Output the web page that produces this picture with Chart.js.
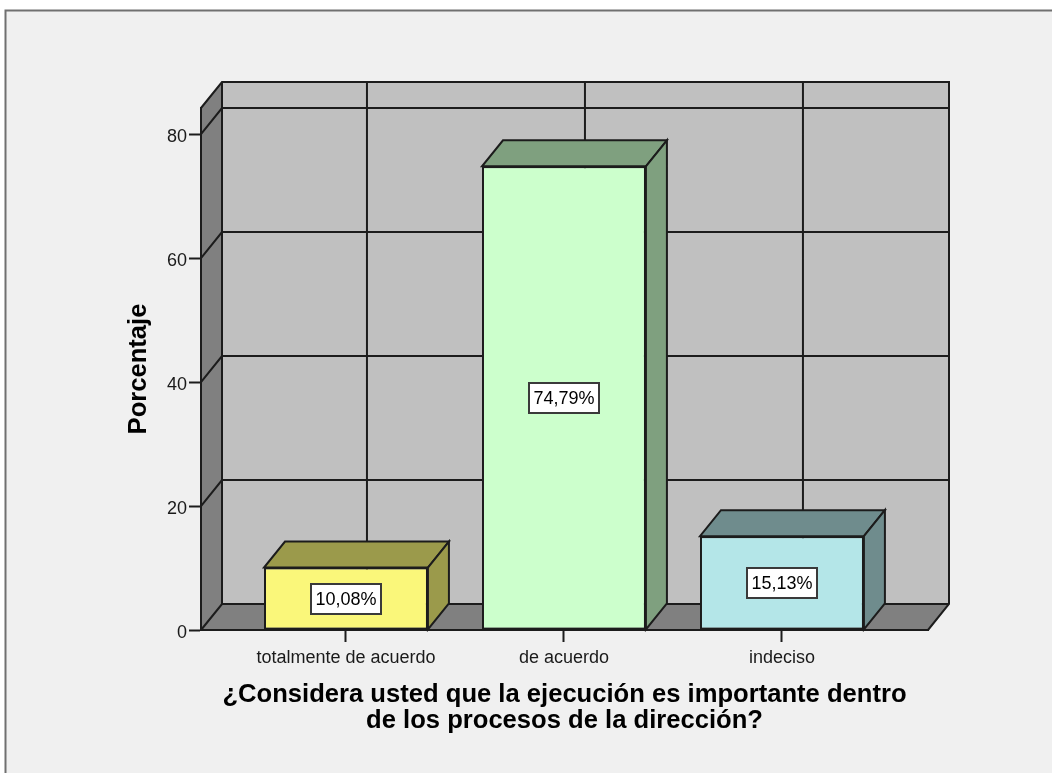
<!DOCTYPE html>
<html><head><meta charset="utf-8">
<script src="https://cdn.jsdelivr.net/npm/chart.js@4"></script>
<style>html,body{margin:0;padding:0;background:#fff;overflow:hidden;} canvas{display:block;}</style>
</head><body>
<canvas id="c" width="1052" height="773"></canvas>
<script>
const categories = ['totalmente de acuerdo', 'de acuerdo', 'indeciso'];
const percentages = [10.08, 74.79, 15.13];
const yTicks = [0, 20, 40, 60, 80];
const xTitle = ['¿Considera usted que la ejecución es importante dentro', 'de los procesos de la dirección?'];
const yTitle = 'Porcentaje';

const FONT = "'Liberation Sans', Arial, sans-serif";
const frontColors = ['#faf77a', '#ccffcc', '#b4e6e8'];
const sideColors = ['#9b9a4b', '#7fa07f', '#6f8c8d'];
const DX = 21, DY = -26;
const LINE = '#1c1c1c';

function poly(ctx, pts, fill, stroke) {
  ctx.beginPath();
  ctx.moveTo(pts[0][0], pts[0][1]);
  for (let i = 1; i < pts.length; i++) ctx.lineTo(pts[i][0], pts[i][1]);
  ctx.closePath();
  if (fill) { ctx.fillStyle = fill; ctx.fill(); }
  if (stroke) { ctx.strokeStyle = stroke; ctx.lineJoin = 'miter'; ctx.stroke(); }
}

const plugin3d = {
  id: 'spss3d',
  beforeDraw(chart) {
    const ctx = chart.ctx;
    const {left: L, right: R, top: T, bottom: B} = chart.chartArea;
    const xs = chart.scales.x, ys = chart.scales.y;
    ctx.save();
    ctx.fillStyle = '#ffffff'; ctx.fillRect(0, 0, chart.width, chart.height);
    ctx.fillStyle = '#f0f0f0'; ctx.fillRect(5, 10, chart.width - 5, chart.height - 10);
    ctx.strokeStyle = '#707070'; ctx.lineWidth = 2;
    ctx.beginPath(); ctx.moveTo(5.5, chart.height); ctx.lineTo(5.5, 10.5); ctx.lineTo(chart.width, 10.5); ctx.stroke();
    // back wall
    ctx.fillStyle = '#c0c0c0'; ctx.fillRect(L + DX, T + DY, R - L, B - T);
    // left wall and floor
    poly(ctx, [[L, T], [L + DX, T + DY], [L + DX, B + DY], [L, B]], '#808080');
    poly(ctx, [[L, B], [R, B], [R + DX, B + DY], [L + DX, B + DY]], '#808080');
    ctx.strokeStyle = LINE; ctx.lineWidth = 2;
    ctx.beginPath();
    yTicks.forEach(v => {
      const y = ys.getPixelForValue(v);
      ctx.moveTo(L, y); ctx.lineTo(L + DX, y + DY); ctx.lineTo(R + DX, y + DY);
    });
    categories.forEach((c, i) => {
      const x = xs.getPixelForValue(i) + DX;
      ctx.moveTo(x, T + DY); ctx.lineTo(x, B + DY);
    });
    ctx.moveTo(L, T); ctx.lineTo(L + DX, T + DY); ctx.lineTo(R + DX, T + DY); ctx.lineTo(R + DX, B + DY); ctx.lineTo(R, B);
    ctx.moveTo(L + DX, T + DY); ctx.lineTo(L + DX, B + DY);
    ctx.stroke();
    ctx.restore();
  },
  afterDatasetsDraw(chart) {
    const ctx = chart.ctx;
    const meta = chart.getDatasetMeta(0);
    ctx.save();
    ctx.lineWidth = 2;
    meta.data.forEach((bar, i) => {
      const {x, y, base, width} = bar.getProps(['x', 'y', 'base', 'width'], true);
      const l = x - width / 2, r = x + width / 2;
      poly(ctx, [[l, y], [r, y], [r + DX, y + DY], [l + DX, y + DY]], sideColors[i], LINE);
      poly(ctx, [[r, y], [r + DX, y + DY], [r + DX, base + DY], [r, base]], sideColors[i], LINE);
    });
    meta.data.forEach((bar, i) => {
      const {x, y, base} = bar.getProps(['x', 'y', 'base'], true);
      const txt = percentages[i].toFixed(2).replace('.', ',') + '%';
      ctx.font = '18px ' + FONT;
      const tw = ctx.measureText(txt).width;
      const bw = Math.round(tw + 9), bh = 30;
      const cx = Math.round(x), cy = Math.round((y + base) / 2);
      const bx = cx - Math.round(bw / 2), by = cy - bh / 2;
      ctx.fillStyle = '#ffffff'; ctx.fillRect(bx, by, bw, bh);
      ctx.strokeStyle = '#3a3a3a'; ctx.lineWidth = 2; ctx.strokeRect(bx, by, bw, bh);
      ctx.fillStyle = '#000000'; ctx.textAlign = 'center'; ctx.textBaseline = 'middle';
      ctx.fillText(txt, cx, cy + 1);
    });
    ctx.restore();
  }
};

new Chart(document.getElementById('c'), {
  type: 'bar',
  data: {
    datasets: [{
      data: percentages.map((v, i) => ({x: i, y: v})),
      backgroundColor: frontColors,
      borderColor: LINE,
      borderWidth: 2,
      borderSkipped: false,
      categoryPercentage: 1,
      barPercentage: 0.752
    }]
  },
  options: {
    responsive: false,
    animation: false,
    events: [],
    layout: {padding: {left: 0, right: 124, top: 108, bottom: 0}},
    plugins: {legend: {display: false}, tooltip: {enabled: false}},
    scales: {
      x: {
        type: 'linear', min: -0.665, max: 2.67, offset: false,
        grid: {display: true, drawOnChartArea: false, drawTicks: true, tickLength: 12, tickWidth: 2, color: LINE, tickColor: LINE, offset: false},
        border: {display: true, color: LINE, width: 2},
        afterBuildTicks: s => { s.ticks = categories.map((c, i) => ({value: i})); },
        ticks: {callback: v => categories[v], font: {family: FONT, size: 18}, color: '#1a1a1a', padding: 5, autoSkip: false, maxRotation: 0, minRotation: 0},
        title: {display: true, text: xTitle, color: '#000', font: {family: FONT, size: 25.6, weight: 'bold', lineHeight: 0.98}, padding: {top: 0, bottom: 40}},
        afterFit: s => { s.height = 143; }
      },
      y: {
        min: 0, max: 84.2,
        grid: {display: true, drawOnChartArea: false, drawTicks: true, tickLength: 12, tickWidth: 2, color: LINE, tickColor: LINE},
        border: {display: true, color: LINE, width: 2},
        afterBuildTicks: s => { s.ticks = yTicks.map(v => ({value: v})); },
        ticks: {callback: v => String(v), font: {family: FONT, size: 18}, color: '#1a1a1a', padding: 2, labelOffset: 3},
        title: {display: true, text: yTitle, color: '#000', font: {family: FONT, size: 25.6, weight: 'bold', lineHeight: 1}, padding: {top: 126.5, bottom: 0}},
        afterFit: s => { s.width = 201; }
      }
    }
  },
  plugins: [plugin3d]
});
</script>
</body></html>
